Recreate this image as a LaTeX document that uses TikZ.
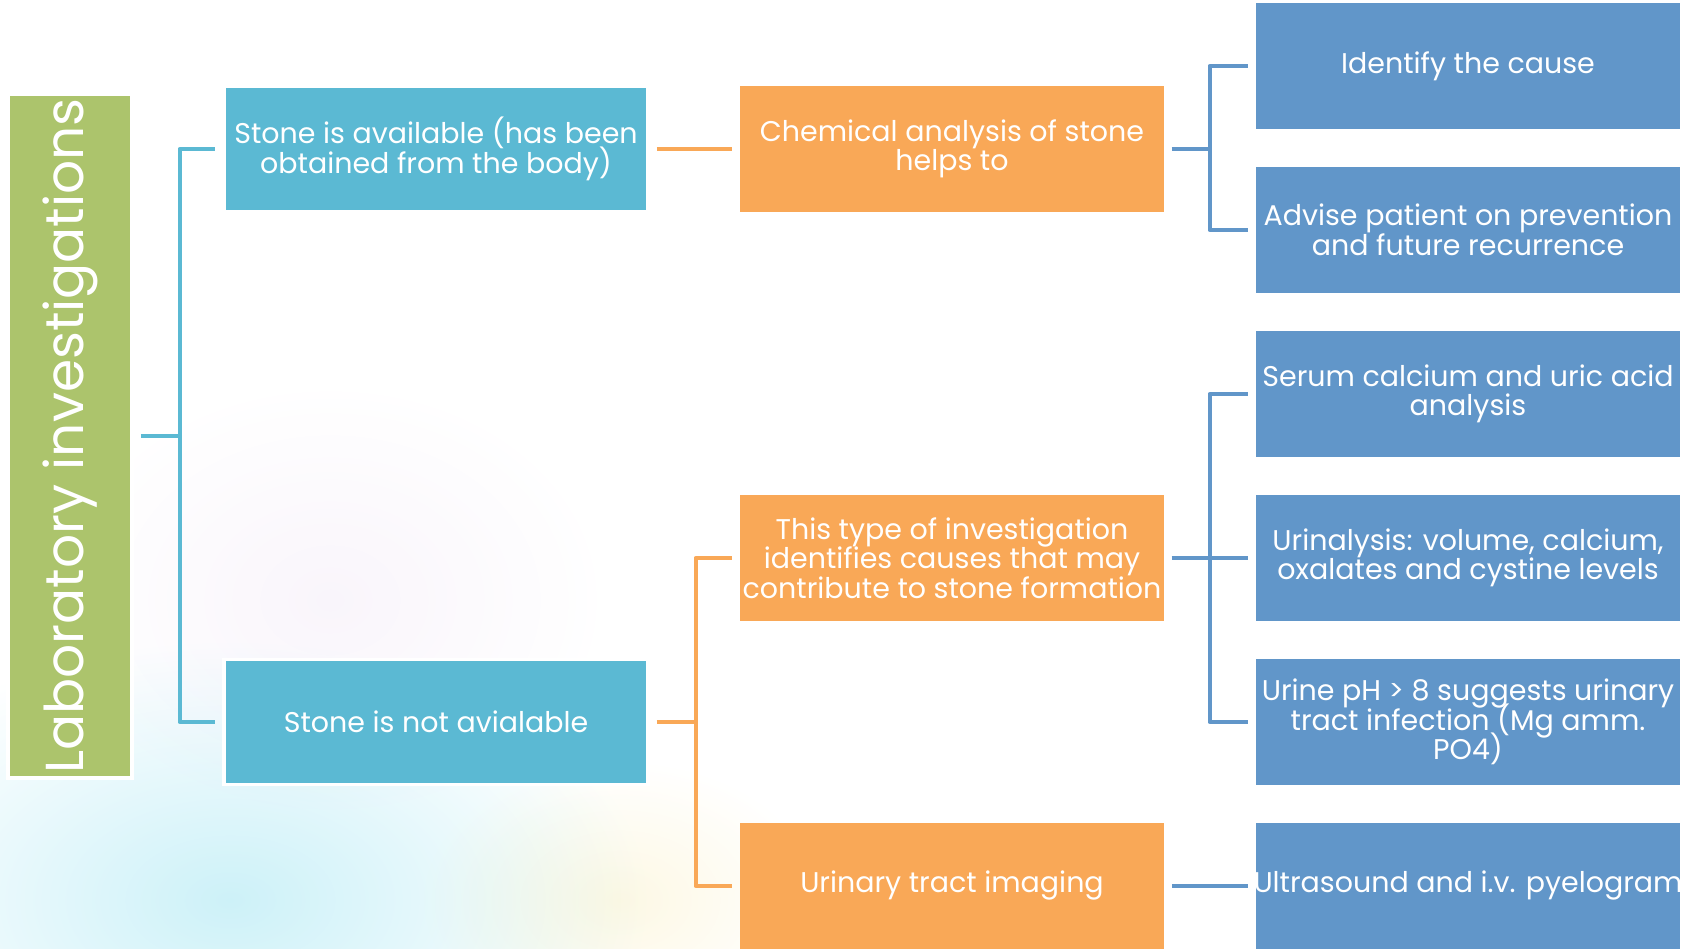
\documentclass[tikz,border=0pt]{standalone}
\usepackage{fontspec}
\setmainfont{Poppins}
\usepackage{xcolor}
\usetikzlibrary{calc}
\definecolor{labgreen}{HTML}{ACC46C}
\definecolor{stonecyan}{HTML}{5BB9D3}
\definecolor{stepor}{HTML}{F9A857}
\definecolor{testblue}{HTML}{6196C9}
\definecolor{hazecyan}{HTML}{CDF1F8}
\definecolor{hazepink}{HTML}{F9F5FB}
\definecolor{hazeyel}{HTML}{FDF8E4}
\newcommand\boxfont{\fontsize{8.1}{8.4}\selectfont\lineskiplimit=-6pt}
\tikzset{
  box/.style={text=white, minimum width=4.24cm, minimum height=1.25cm,
    align=center, inner sep=0pt, font=\boxfont},
  stonebox/.style={box, fill=stonecyan},
  stepbox/.style={box, fill=stepor},
  testbox/.style={box, fill=testblue},
  titlebox/.style={fill=labgreen, draw=white, line width=1pt, minimum width=1.24cm,
    minimum height=6.84cm, inner sep=0pt},
  link/.style={line width=1.3pt, line join=round, shorten <=0.07cm, shorten >=0.07cm},
  cyanlink/.style={link, draw=stonecyan},
  orlink/.style={link, draw=stepor},
  bluelink/.style={link, draw=testblue}
}

\begin{document}
\begin{tikzpicture}[x=0.01cm, y=-0.01cm]
  \useasboundingbox (0,0) rectangle (1702,949);

  % soft background
  \begin{scope}[blend mode=multiply]
    \shade[inner color=hazecyan, outer color=white] (230,900) ellipse (4.2cm and 2.6cm);
    \shade[inner color=hazepink, outer color=white] (330,600) ellipse (2.8cm and 2.2cm);
    \shade[inner color=hazeyel, outer color=white] (620,900) ellipse (2cm and 1.4cm);
  \end{scope}

  % title
  \node[titlebox] (lab) at (70,436) {};
  \node[text=white, rotate=90, font=\fontsize{15.2}{17}\selectfont] (labtxt) at (lab.center) {Laboratory investigations};

  % stone boxes
  \node[stonebox, draw=white, line width=1pt] (avail) at (436,149) {Stone is available (has been\\obtained from the body)};
  \node[stonebox, draw=white, line width=1pt] (notavail) at (436,722) {Stone is not avialable};

  % orange boxes
  \node[stepbox] (chem) at (952,149) {Chemical analysis of stone\\helps to};
  \node[stepbox] (type) at (952,558) {This type of investigation\\identifies causes that may\\contribute to stone formation};
  \node[stepbox] (imaging) at (952,886) {Urinary tract imaging};

  % blue boxes
  \node[testbox] (cause) at (1468,66) {Identify the cause};
  \node[testbox] (advise) at (1468,230) {Advise patient on prevention\\and future recurrence};
  \node[testbox] (serum) at (1468,394) {Serum calcium and uric acid\\analysis};
  \node[testbox] (urinal) at (1468,558) {Urinalysis: volume, calcium,\\oxalates and cystine levels};
  \node[testbox] (urineph) at (1468,722) {Urine pH > 8 suggests urinary\\tract infection (Mg amm.\\PO4)};
  \node[testbox] (ultra) at (1468,886) {\makebox[0pt]{Ultrasound and i.v. pyelogram}};

  % links
  \draw[cyanlink] (lab.east) -- ++(46,0) |- (avail.west);
  \draw[cyanlink] (lab.east) -- ++(46,0) |- (notavail.west);
  \draw[orlink] (avail.east) -- (chem.west);
  \draw[orlink] (notavail.east) -- ++(46,0) |- (type.west);
  \draw[orlink] (notavail.east) -- ++(46,0) |- (imaging.west);
  \draw[bluelink] (chem.east) -- ++(45,0) |- (cause.west);
  \draw[bluelink] (chem.east) -- ++(45,0) |- (advise.west);
  \draw[bluelink] (type.east) -- ++(45,0) |- (serum.west);
  \draw[bluelink] (type.east) -- (urinal.west);
  \draw[bluelink] (type.east) -- ++(45,0) |- (urineph.west);
  \draw[bluelink] (imaging.east) -- (ultra.west);
\end{tikzpicture}
\end{document}
